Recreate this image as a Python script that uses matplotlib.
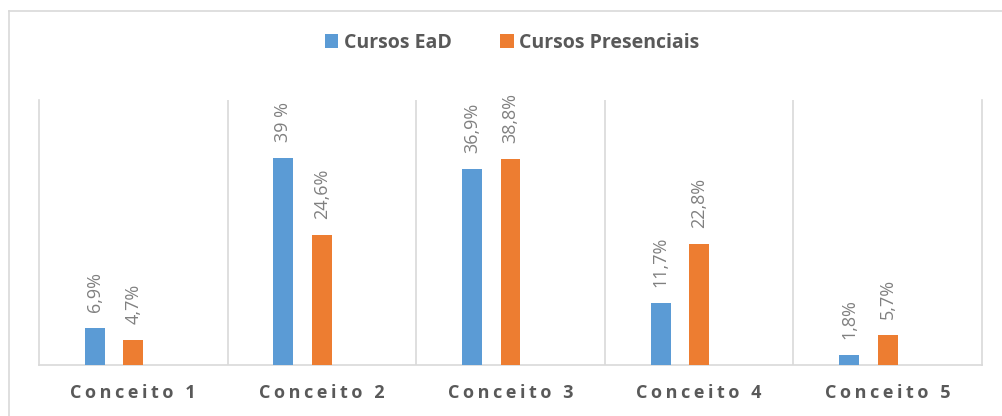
"""
Conceitos: Cursos EaD vs. Cursos Presenciais (percentual por conceito).
"""
import matplotlib
matplotlib.use("Agg")
import matplotlib.pyplot as plt
from matplotlib.patches import Patch
from matplotlib.lines import Line2D

# ── Data ───────────────────────────────────────────────────────────────────────
categories = ["Conceito 1", "Conceito 2", "Conceito 3", "Conceito 4", "Conceito 5"]
ead = [6.9, 39.0, 36.9, 11.7, 1.8]
presenciais = [4.7, 24.6, 38.8, 22.8, 5.7]
ead_labels = ["6,9%", "39 %", "36,9%", "11,7%", "1,8%"]
pres_labels = ["4,7%", "24,6%", "38,8%", "22,8%", "5,7%"]
series_names = ["Cursos EaD", "Cursos Presenciais"]

BLUE = "#5B9BD5"
ORANGE = "#ED7D31"
GRID = "#D9D9D9"
TEXT = "#595959"
LABEL = "#808080"

W, H, DPI = 1002, 416, 100


def spaced(s):
    # imitate Excel character spacing with thin spaces
    return "\u2009".join(s.replace(" ", "\u00a0"))


def main():
    fig = plt.figure(figsize=(W / DPI, H / DPI), dpi=DPI)
    ax = fig.add_axes([39 / W, 1 - 365 / H, (982 - 39) / W, 265 / H])

    # outer chart border: only top and left edges are inside the image
    bx, by = 8.5 / W, 1 - 10.5 / H
    fig.add_artist(Line2D([bx, 1.0], [by, by], transform=fig.transFigure,
                          color=GRID, linewidth=1.2, zorder=0))
    fig.add_artist(Line2D([bx, bx], [0.0, by], transform=fig.transFigure,
                          color=GRID, linewidth=1.2, zorder=0))

    n = len(categories)
    xs = list(range(n))
    bw = 0.106
    off_blue = -0.204
    off_orange = 0.0

    ax.bar([x + off_blue for x in xs], ead, width=bw, color=BLUE, zorder=3)
    ax.bar([x + off_orange for x in xs], presenciais, width=bw, color=ORANGE, zorder=3)

    lbl_font = dict(family=["Open Sans", "DejaVu Sans"], fontsize=13, color=LABEL)
    for x, v, t in zip(xs, ead, ead_labels):
        ax.annotate(t, (x + off_blue, v), xytext=(0, 11.5), textcoords="offset points",
                    rotation=90, ha="center", va="bottom", **lbl_font)
    for x, v, t in zip(xs, presenciais, pres_labels):
        ax.annotate(t, (x + off_orange, v), xytext=(0, 11.5), textcoords="offset points",
                    rotation=90, ha="center", va="bottom", **lbl_font)

    ax.set_xlim(-0.5, n - 0.5)
    ax.set_ylim(0, 50)

    # category separators
    for b in range(1, n):
        ax.axvline(b - 0.5, color=GRID, linewidth=1.2, zorder=1)

    for side in ["left", "right", "bottom"]:
        ax.spines[side].set_color(GRID)
        ax.spines[side].set_linewidth(1.2)
    ax.spines["top"].set_visible(False)

    ax.set_yticks([])
    ax.set_xticks(xs)
    ax.set_xticklabels([spaced(c) for c in categories],
                       family=["Open Sans", "DejaVu Sans"], fontsize=13,
                       fontweight="bold", color=TEXT)
    ax.tick_params(axis="x", length=0, pad=14)

    handles = [Patch(facecolor=BLUE, label=series_names[0]),
               Patch(facecolor=ORANGE, label=series_names[1])]
    fig.legend(handles=handles, loc="center", bbox_to_anchor=(512 / W, 1 - 43 / H),
               ncol=2, frameon=False, handlelength=0.7, handleheight=0.7,
               handletextpad=0.28, columnspacing=2.5,
               prop=dict(family=["Open Sans", "DejaVu Sans"], size=14, weight="bold"),
               labelcolor=TEXT)

    fig.savefig("out.png", dpi=DPI)
    plt.close(fig)


if __name__ == "__main__":
    main()
